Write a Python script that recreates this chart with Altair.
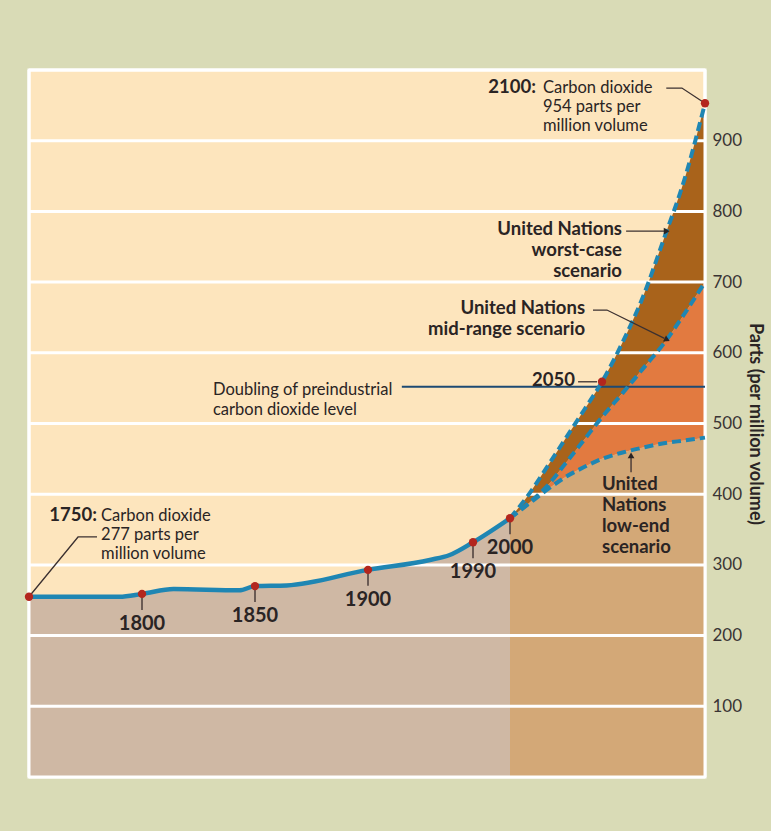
import altair as alt
import pandas as pd

# ---------------- data ----------------
hist_years = [1750, 1790, 1800, 1814, 1843, 1850, 1864, 1900, 1953, 1970, 1990, 2000]
hist_ppm = [255, 255, 259, 266, 264, 270, 271, 293, 307, 314, 332, 366]

scen_years = [2000, 2010, 2020, 2030, 2040, 2050, 2060, 2070, 2080, 2090, 2100]
low_ppm = [366, 386, 406, 424, 438, 450, 459, 466, 472, 476, 480]
mid_ppm = [366, 387, 411, 443, 476, 509, 543, 578, 613, 655, 700]
worst_ppm = [366, 399, 438, 478, 518, 559, 615, 680, 761, 845, 953]

marker_years = [1750, 1800, 1850, 1900, 1990, 2000, 2050, 2100]
marker_ppm = [255, 259, 270, 293, 332, 366, 559, 953]

label_years = [1800, 1850, 1900, 1990, 2000]
label_ppm = [259, 270, 293, 332, 366]
label_text = ["1800", "1850", "1900", "1990", "2000"]

grid_ppm = [0, 100, 200, 300, 400, 500, 600, 700, 800, 900, 1000]
axis_values = [100, 200, 300, 400, 500, 600, 700, 800, 900]

doubling_years = [1929, 2100]
doubling_ppm = [552, 552]

# annotations (anchor year, ppm)
bold_right_text = ["1750:", "2100:", "United Nations", "worst-case", "scenario",
                   "United Nations", "mid-range scenario", "2050"]
bold_right_year = [1780.1, 2014.1, 2059.7, 2059.7, 2059.7, 2040.8, 2040.8, 2035.3]
bold_right_ppm = [362, 967.5, 766.6, 736.9, 707.2, 654.9, 625.2, 553]

normal_left_text = ["Carbon dioxide", "277 parts per", "million volume",
                    "Carbon dioxide", "954 parts per", "million volume",
                    "Doubling of preindustrial", "carbon dioxide level"]
normal_left_year = [1781.9, 1781.9, 1781.9, 2017.9, 2017.9, 2017.9, 1831.4, 1831.4]
normal_left_ppm = [362, 335.2, 308.3, 967.5, 940.6, 913.7, 540.3, 512]

bold_left_text = ["United", "Nations", "low-end", "scenario"]
bold_left_year = [2050, 2050, 2050, 2050]
bold_left_ppm = [405.9, 376.2, 346.5, 316.8]

leader_id = ["a", "a", "a", "b", "b", "b", "c", "c", "d", "d", "d", "e", "e", "f", "f"]
leader_year = [1750, 1771.7, 1780.1, 2081.2, 2088.8, 2100, 2061.7, 2080.5,
               2045.1, 2052.4, 2080.3, 2064.1, 2064.1, 2037, 2047.3]
leader_ppm = [255, 339.5, 339.5, 974.5, 974.5, 953, 772, 772,
              660.5, 660.5, 620.5, 431, 452, 559, 559]

head_year = [2081.4, 2081.6, 2064.1]
head_ppm = [772, 618.5, 455]
head_shape = ["triangle-right", "triangle-right", "triangle-up"]
head_angle = [0, 27, 0]

# ---------------- styles ----------------
FONT = "Lato"
TXT = "#2a2424"
LINE = "#1f86b3"

xscale = alt.Scale(domain=[1750, 1900, 1990, 2000, 2050, 2100],
                   range=[0, 339, 444, 481, 573, 676], nice=False, zero=False)
yscale = alt.Scale(domain=[0, 1000], nice=False, zero=False)
yaxis = alt.Axis(orient="right", values=axis_values, grid=False, ticks=False, domain=False,
                 labelFont=FONT, labelFontSize=17, labelColor="#3a3434", labelPadding=7,
                 title="Parts (per million volume)", titleFont=FONT, titleFontSize=18,
                 titleFontWeight="bold", titleColor=TXT, titlePadding=4)


def X(f="year"):
    return alt.X(f"{f}:Q", scale=xscale, axis=None)


def Y(f="ppm"):
    return alt.Y(f"{f}:Q", scale=yscale, axis=yaxis)


hist = pd.DataFrame({"year": hist_years, "ppm": hist_ppm})
scen = pd.DataFrame({"year": scen_years, "low": low_ppm, "mid": mid_ppm, "worst": worst_ppm})
markers = pd.DataFrame({"year": marker_years, "ppm": marker_ppm})
labels = pd.DataFrame({"year": label_years, "ppm": label_ppm, "t": label_text})
grid = pd.DataFrame({"ppm": grid_ppm})
doub = pd.DataFrame({"year": doubling_years, "ppm": doubling_ppm})
br = pd.DataFrame({"year": bold_right_year, "ppm": bold_right_ppm, "t": bold_right_text})
nl = pd.DataFrame({"year": normal_left_year, "ppm": normal_left_ppm, "t": normal_left_text})
bl = pd.DataFrame({"year": bold_left_year, "ppm": bold_left_ppm, "t": bold_left_text})
lead = pd.DataFrame({"id": leader_id, "year": leader_year, "ppm": leader_ppm,
                     "o": list(range(len(leader_id)))})
heads = pd.DataFrame({"year": head_year, "ppm": head_ppm, "shape": head_shape, "a": head_angle})

# ---------------- layers ----------------
hist_area = alt.Chart(hist).mark_area(color="#cfb8a4", interpolate="monotone").encode(
    x=X(), y=Y())
tan_area = alt.Chart(scen).mark_area(color="#d3a877", interpolate="monotone").encode(
    x=X(), y=Y("low"))
orange_area = alt.Chart(scen).mark_area(color="#e27a40", interpolate="monotone").encode(
    x=X(), y=Y("low"), y2="mid:Q")
brown_area = alt.Chart(scen).mark_area(color="#a9631b", interpolate="monotone").encode(
    x=X(), y=Y("mid"), y2="worst:Q")

grid_rules = alt.Chart(grid).mark_rule(color="white", strokeWidth=3).encode(y=Y())
frame = alt.Chart(pd.DataFrame({"year": [1750, 2100]})).mark_rule(
    color="white", strokeWidth=3).encode(x=X())

doub_line = alt.Chart(doub).mark_line(color="#1d4a73", strokeWidth=2).encode(x=X(), y=Y())

hist_line = alt.Chart(hist).mark_line(color=LINE, strokeWidth=4.5, interpolate="monotone").encode(
    x=X(), y=Y())


def dashed(field):
    return alt.Chart(scen).mark_line(color=LINE, strokeWidth=4, strokeDash=[9, 5],
                                     interpolate="monotone").encode(x=X(), y=Y(field))


leaders = alt.Chart(lead).mark_line(color="#3b3030", strokeWidth=1.3).encode(
    x=X(), y=Y(), detail="id:N", order="o:Q")
head_pts = alt.Chart(heads).mark_point(filled=True, color="#2a2424", size=45, opacity=1).encode(
    x=X(), y=Y(), shape=alt.Shape("shape:N", scale=None), angle=alt.Angle("a:Q", scale=None))

ticks = alt.Chart(labels).mark_rule(color="#4a3c3a", strokeWidth=1.5, y2Offset=16).encode(
    x=X(), y=Y(), y2="ppm:Q")
year_text = alt.Chart(labels).mark_text(font=FONT, fontSize=20, fontWeight="bold", color=TXT,
                                        baseline="middle", align="center", dy=30).encode(
    x=X(), y=Y(), text="t:N")

dots = alt.Chart(markers).mark_circle(color="#b3261e", size=70, opacity=1).encode(x=X(), y=Y())

br_text = alt.Chart(br).mark_text(font=FONT, fontSize=18.5, fontWeight="bold", color=TXT,
                                  align="right", baseline="alphabetic").encode(
    x=X(), y=Y(), text="t:N")
nl_text = alt.Chart(nl).mark_text(font=FONT, fontSize=16.5, color=TXT, align="left",
                                  baseline="alphabetic").encode(x=X(), y=Y(), text="t:N")
bl_text = alt.Chart(bl).mark_text(font=FONT, fontSize=18.5, fontWeight="bold", color=TXT,
                                  align="left", baseline="alphabetic").encode(
    x=X(), y=Y(), text="t:N")

chart = alt.layer(
    hist_area, tan_area, orange_area, brown_area, grid_rules, frame, doub_line,
    hist_line, dashed("low"), dashed("mid"), dashed("worst"),
    leaders, head_pts, ticks, year_text, dots, br_text, nl_text, bl_text
).properties(
    width=676, height=707,
    padding={"left": 29, "top": 70, "right": 66, "bottom": 54},
    autosize=alt.AutoSizeParams(type="none"),
    background="#d9dbb6",
).configure_view(fill="#fde5bd", stroke="white", strokeWidth=3)

chart.save("out.html", embed_options={"renderer": "svg", "actions": False})
